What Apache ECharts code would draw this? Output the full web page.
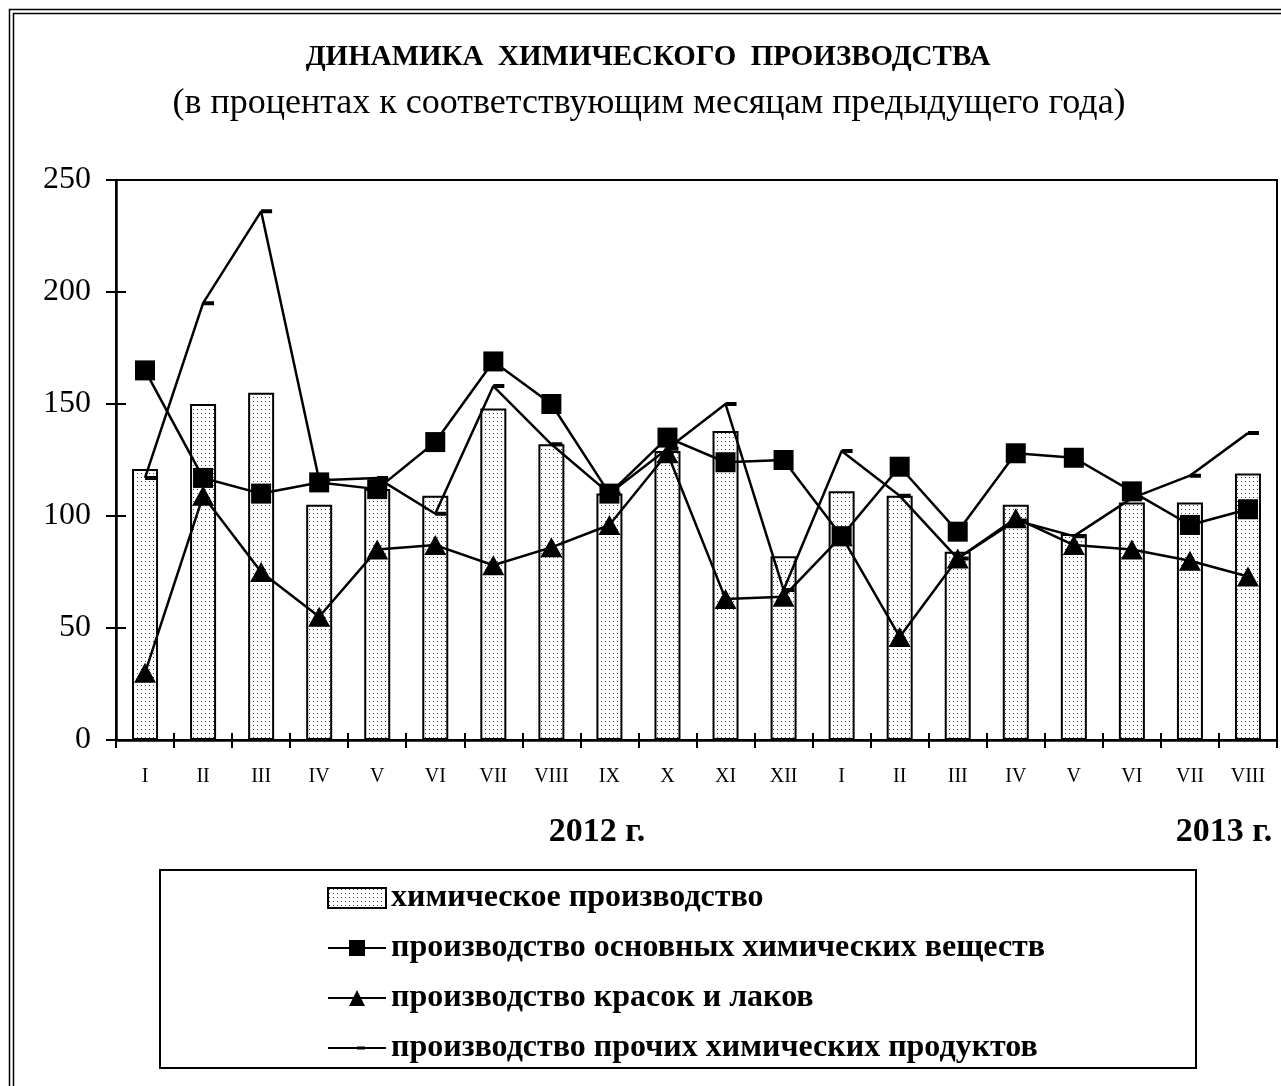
<!DOCTYPE html>
<html>
<head>
<meta charset="utf-8">
<script src="https://cdn.jsdelivr.net/npm/echarts@6/dist/echarts.min.js"></script>
<style>
  html, body { margin: 0; padding: 0; background: #fff; }
  #chart { width: 1281px; height: 1086px; }
</style>
</head>
<body>
<div id="chart"></div>
<script>
// месяцы 2012-2013
var months = ['I', 'II', 'III', 'IV', 'V', 'VI', 'VII', 'VIII', 'IX', 'X', 'XI', 'XII',
              'I', 'II', 'III', 'IV', 'V', 'VI', 'VII', 'VIII'];
var yTicks = [0, 50, 100, 150, 200, 250];
var chemical = [121, 150, 155, 105, 112, 109, 148, 132, 110, 129, 138, 82, 111, 109, 84, 105, 92, 106, 106, 119];
var basic    = [165, 117, 110, 115, 112, 133, 169, 150, 110, 135, 124, 125, 91, 122, 93, 128, 126, 111, 96, 103];
var paints   = [30, 109, 75, 55, 85, 87, 78, 86, 96, 128, 63, 64, 91, 46, 81, 99, 87, 85, 80, 73];
var other    = [117, 195, 236, 116, 117, 101, 158, 132, 110, 130, 150, 67, 129, 109, 81, 98, 91, 108, 118, 137];
var names = ['химическое производство', 'производство основных химических веществ',
             'производство красок и лаков', 'производство прочих химических продуктов'];

var SERIF = '"Liberation Serif", "DejaVu Serif", serif';

// точечная заливка столбиков
function dots() {
    var c = document.createElement('canvas');
    c.width = 4; c.height = 4;
    var g = c.getContext('2d');
    g.fillStyle = '#fff';
    g.fillRect(0, 0, 4, 4);
    g.fillStyle = '#444';
    g.fillRect(1, 1, 1, 1);
    return c;
}
var pattern = { image: dots(), repeat: 'repeat' };

// короткая черточка справа от точки (как маркер в Excel)
var dash = 'path://M0,0L0,0ZM22,22L22,22ZM11,9H22V13H11Z';

var myChart = echarts.init(document.getElementById('chart'));
var lineStyle = { color: '#000', width: 2.5 };

var option = {
    animation: false,
    backgroundColor: '#fff',
    grid: {
        left: 116, right: 4, top: 180, bottom: 346,
        show: true, borderColor: '#000', borderWidth: 2
    },
    xAxis: [{
        type: 'category',
        data: months,
        axisLine: { lineStyle: { color: '#000', width: 2.5 } },
        axisTick: { show: true, length: 8, lineStyle: { color: '#000', width: 2 } },
        axisLabel: { color: '#000', fontFamily: SERIF, fontSize: 20, margin: 27 }
    }, {
        type: 'category',
        data: months,
        position: 'bottom',
        axisLine: { show: false },
        axisTick: { show: true, inside: true, length: 7, lineStyle: { color: '#000', width: 2 } },
        axisLabel: { show: false }
    }],
    yAxis: [{
        type: 'value',
        min: yTicks[0], max: yTicks[yTicks.length - 1], interval: 50,
        splitLine: { show: false },
        axisLine: { show: true, lineStyle: { color: '#000', width: 2.5 } },
        axisTick: { show: true, length: 10, lineStyle: { color: '#000', width: 2 } },
        axisLabel: { color: '#000', fontFamily: SERIF, fontSize: 32, margin: 25 }
    }, {
        type: 'value',
        min: yTicks[0], max: yTicks[yTicks.length - 1], interval: 50,
        position: 'left',
        splitLine: { show: false },
        axisLine: { show: false },
        axisTick: { show: true, inside: true, length: 10, lineStyle: { color: '#000', width: 2 } },
        axisLabel: { show: false }
    }],
    legend: {
        orient: 'vertical',
        left: 322, top: 877,
        itemWidth: 58, itemHeight: 20, itemGap: 18,
        textStyle: { color: '#000', fontFamily: SERIF, fontWeight: 'bold', fontSize: 32, lineHeight: 32 },
        data: [{ name: names[0], icon: 'rect' }, names[1], names[2], names[3]]
    },
    graphic: [
        { type: 'rect', shape: { x: 9.5, y: 9.5, width: 1400, height: 1200 }, style: { fill: null, stroke: '#000', lineWidth: 1.5 }, silent: true },
        { type: 'rect', shape: { x: 13.5, y: 13.5, width: 1400, height: 1200 }, style: { fill: null, stroke: '#000', lineWidth: 1.5 }, silent: true },
        { type: 'rect', shape: { x: 160, y: 870, width: 1036, height: 198 }, style: { fill: null, stroke: '#000', lineWidth: 2 }, silent: true, z: -1 },
        { type: 'text', x: 648, y: 58, style: { text: 'ДИНАМИКА  ХИМИЧЕСКОГО  ПРОИЗВОДСТВА', fill: '#000', font: 'bold 29px ' + SERIF, textAlign: 'center', textVerticalAlign: 'middle' } },
        { type: 'text', x: 649, y: 104, style: { text: '(в процентах к соответствующим месяцам предыдущего года)', fill: '#000', font: '36px ' + SERIF, textAlign: 'center', textVerticalAlign: 'middle' } },
        { type: 'text', x: 597, y: 832, style: { text: '2012 г.', fill: '#000', font: 'bold 34px ' + SERIF, textAlign: 'center', textVerticalAlign: 'middle' } },
        { type: 'text', x: 1224, y: 832, style: { text: '2013 г.', fill: '#000', font: 'bold 34px ' + SERIF, textAlign: 'center', textVerticalAlign: 'middle' } }
    ],
    series: [{
        name: names[0],
        type: 'bar',
        data: chemical,
        barWidth: 26,
        itemStyle: { color: pattern, borderColor: '#000', borderWidth: 2 }
    }, {
        name: names[1],
        type: 'line',
        data: basic,
        symbol: 'rect', symbolSize: 20,
        itemStyle: { color: '#000' },
        lineStyle: lineStyle
    }, {
        name: names[2],
        type: 'line',
        data: paints,
        symbol: 'triangle', symbolSize: [22, 20],
        itemStyle: { color: '#000' },
        lineStyle: lineStyle
    }, {
        name: names[3],
        type: 'line',
        data: other,
        symbol: dash, symbolSize: 22,
        itemStyle: { color: '#000' },
        lineStyle: lineStyle
    }]
};
myChart.setOption(option);
</script>
</body>
</html>
